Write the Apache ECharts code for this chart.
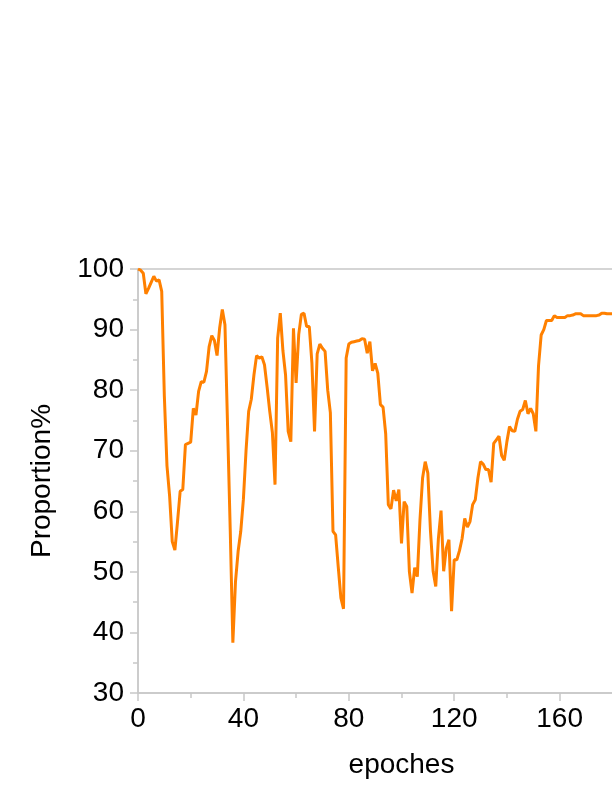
<!DOCTYPE html>
<html>
<head>
<meta charset="utf-8">
<script src="https://cdn.jsdelivr.net/npm/echarts@6/dist/echarts.min.js"></script>
<style>
  html, body { margin: 0; padding: 0; background: #fff; }
  #chart { width: 612px; height: 792px; }
</style>
</head>
<body>
<div id="chart"></div>
<script>
// proportion (%) per epoch, index = epoch
var proportion = [
  100, 99.8, 99.3, 95.9, 96.8, 97.8, 98.8, 98.0, 98.2, 96.3,
  79, 67.5, 62.5, 55, 53.6, 58.3, 63.3, 63.6, 71, 71.2,
  71.4, 77, 75.9, 79.8, 81.4, 81.3, 83.1, 87.2, 89, 88.2,
  85.7, 90.3, 93.3, 90.8, 74, 57, 38.3, 48.4, 53.4, 56.7,
  62, 70, 76.5, 78.5, 82.5, 85.7, 85.3, 85.5, 84.2, 80.5,
  76.5, 73, 64.4, 88.6, 92.7, 86.5, 82.5, 73.2, 71.5, 90.2,
  81.2, 89.2, 92.5, 92.7, 90.5, 90.5, 84.5, 73.2, 86, 87.6,
  86.9, 86.4, 80, 76.3, 56.7, 56.1, 50.8, 45.7, 43.9, 85.3,
  87.6, 87.9, 88, 88.1, 88.2, 88.5, 88.4, 86.1, 88, 83.2,
  84.4, 82.8, 77.6, 77.2, 72.8, 61.1, 60.4, 63.5, 61.7, 63.6,
  54.7, 61.6, 60.8, 50, 46.5, 50.7, 49.2, 58.5, 65.5, 68.2,
  66.3, 56.7, 50.1, 47.6, 55.5, 60.1, 50.1, 53.9, 55.3, 43.5,
  52, 52, 53.5, 55.5, 58.8, 57.4, 58.3, 61.1, 61.9, 65.5,
  68.2, 67.8, 66.9, 66.9, 64.8, 71.2, 71.8, 72.4, 69.2, 68.4,
  71.5, 74, 73.3, 73.2, 75.2, 76.5, 76.8, 78.3, 76.1, 77,
  76.1, 73.2, 84, 89.1, 90, 91.5, 91.5, 91.5, 92.3, 92,
  92, 92, 92, 92.3, 92.3, 92.4, 92.6, 92.6, 92.6, 92.3,
  92.3, 92.3, 92.3, 92.3, 92.3, 92.4, 92.7, 92.7, 92.6, 92.6,
  92.6, 92.6
];

var xName = "epoches";
var yName = "Proportion%";

var axisGray = "#c8c8c8";
var font = "'Liberation Sans', Arial, Helvetica, sans-serif";

var seriesData = proportion.map(function (v, i) {
  return [i, v];
});

var chart = echarts.init(document.getElementById("chart"));

var option = {
  backgroundColor: "#ffffff",
  animation: false,
  grid: {
    show: true,
    left: 138,
    top: 269,
    width: 527,
    height: 424,
    containLabel: false,
    outerBoundsMode: "none",
    borderColor: axisGray,
    borderWidth: 1.5,
    backgroundColor: "transparent",
  },
  xAxis: {
    type: "value",
    min: 0,
    max: 200,
    interval: 40,
    name: xName,
    nameLocation: "middle",
    nameGap: 58,
    nameTextStyle: { fontSize: 28, color: "#000", fontFamily: font },
    axisLine: { lineStyle: { color: axisGray, width: 1.5 } },
    axisTick: { show: true, inside: false, length: 8, lineStyle: { color: axisGray, width: 1.5 } },
    minorTick: { show: true, splitNumber: 2, length: 5, lineStyle: { color: axisGray, width: 1.5 } },
    axisLabel: { fontSize: 28, color: "#000", fontFamily: font, margin: 12 },
    splitLine: { show: false },
  },
  yAxis: {
    type: "value",
    min: 30,
    max: 100,
    interval: 10,
    name: yName,
    nameLocation: "middle",
    nameRotate: 90,
    nameGap: 82,
    nameTextStyle: { fontSize: 28, color: "#000", fontFamily: font },
    axisLine: { show: true, lineStyle: { color: axisGray, width: 1.5 } },
    axisTick: { show: true, inside: false, length: 8, lineStyle: { color: axisGray, width: 1.5 } },
    minorTick: { show: true, splitNumber: 2, length: 5, lineStyle: { color: axisGray, width: 1.5 } },
    axisLabel: { fontSize: 28, color: "#000", fontFamily: font, margin: 14 },
    splitLine: { show: false },
  },
  series: [
    {
      type: "line",
      data: seriesData,
      showSymbol: false,
      lineStyle: { color: "#ff8000", width: 3 },
      itemStyle: { color: "#ff8000" },
    },
  ],
};

chart.setOption(option);
</script>
</body>
</html>
